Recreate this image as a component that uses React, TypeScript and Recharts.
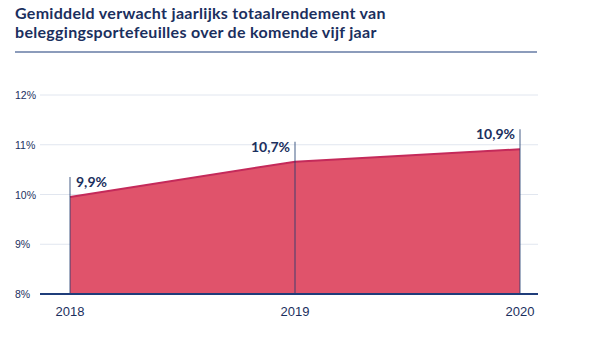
import React from "react";
import { AreaChart, Area, XAxis, YAxis, CartesianGrid, ReferenceLine, LabelList } from "recharts";

const years = ["2018", "2019", "2020"];
const returns = [9.95, 10.66, 10.91];
const returnLabels = ["9,9%", "10,7%", "10,9%"];
const yTicks = [8, 9, 10, 11, 12];

const data = years.map((year, i) => ({ year, value: returns[i], label: returnLabels[i] }));

const NAVY = "#1b2f5e";
const TICK_FONT = "'Liberation Sans', Arial, sans-serif";

const YTick = (props: any) => {
  const { y, payload } = props;
  return (
    <text x={15} y={y} dy={4} textAnchor="start" fontSize={10.5} fill={NAVY} fontFamily={TICK_FONT}>
      {payload.value}%
    </text>
  );
};

const XTick = (props: any) => {
  const { x, y, payload } = props;
  return (
    <text x={x} y={y} dy={14} textAnchor="middle" fontSize={13} fill={NAVY} fontFamily={TICK_FONT}>
      {payload.value}
    </text>
  );
};

const PointLabel = (props: any) => {
  const { x, y, index, value } = props;
  const first = index === 0;
  return (
    <text
      x={first ? x + 6 : x - 5}
      y={y - 10}
      textAnchor={first ? "start" : "end"}
      fontSize={14}
      fontWeight={700}
      fill={NAVY}
      fontFamily="Lato, 'Noto Sans', sans-serif"
    >
      {value}
    </text>
  );
};

export default function App() {
  return (
    <div style={{ position: "relative", width: 600, height: 359, margin: -8, background: "#fff" }}>
      <div
        style={{
          position: "absolute",
          left: 15,
          top: 3,
          fontFamily: "Lato, 'Noto Sans', sans-serif",
          fontWeight: 700,
          fontSize: 16,
          letterSpacing: 0.3,
          lineHeight: "19px",
          color: NAVY,
          whiteSpace: "nowrap",
        }}
      >
        <div>Gemiddeld verwacht jaarlijks totaalrendement van</div>
        <div>beleggingsportefeuilles over de komende vijf jaar</div>
      </div>
      <div style={{ position: "absolute", left: 15, top: 51, width: 522, height: 2, background: "#8c9cbb" }} />
      <div style={{ position: "absolute", left: 0, top: 0 }}>
        <AreaChart width={600} height={359} data={data} margin={{ top: 95, right: 62, bottom: 35, left: 0 }}>
          <CartesianGrid horizontal vertical={false} stroke="#e1e6ef" strokeWidth={1} />
          <XAxis
            dataKey="year"
            padding={{ left: 30, right: 18 }}
            axisLine={{ stroke: "#1f3d7a", strokeWidth: 2 }}
            tickLine={false}
            tick={<XTick />}
            height={30}
            interval={0}
          />
          <YAxis
            domain={[8, 12]}
            ticks={yTicks}
            width={40}
            axisLine={false}
            tickLine={false}
            tick={<YTick />}
            interval={0}
          />
          <Area
            type="linear"
            dataKey="value"
            fill="#e0536b"
            fillOpacity={1}
            stroke="#c42a5a"
            strokeWidth={2}
            dot={false}
            activeDot={false}
            isAnimationActive={false}
          >
            <LabelList dataKey="label" content={<PointLabel />} />
          </Area>
          {data.map((d) => (
            <ReferenceLine
              key={d.year}
              segment={[
                { x: d.year, y: 8 },
                { x: d.year, y: d.value + 0.4 },
              ]}
              stroke="#1f3a70"
              strokeOpacity={0.55}
              strokeWidth={1.5}
              ifOverflow="visible"
            />
          ))}
        </AreaChart>
      </div>
    </div>
  );
}
